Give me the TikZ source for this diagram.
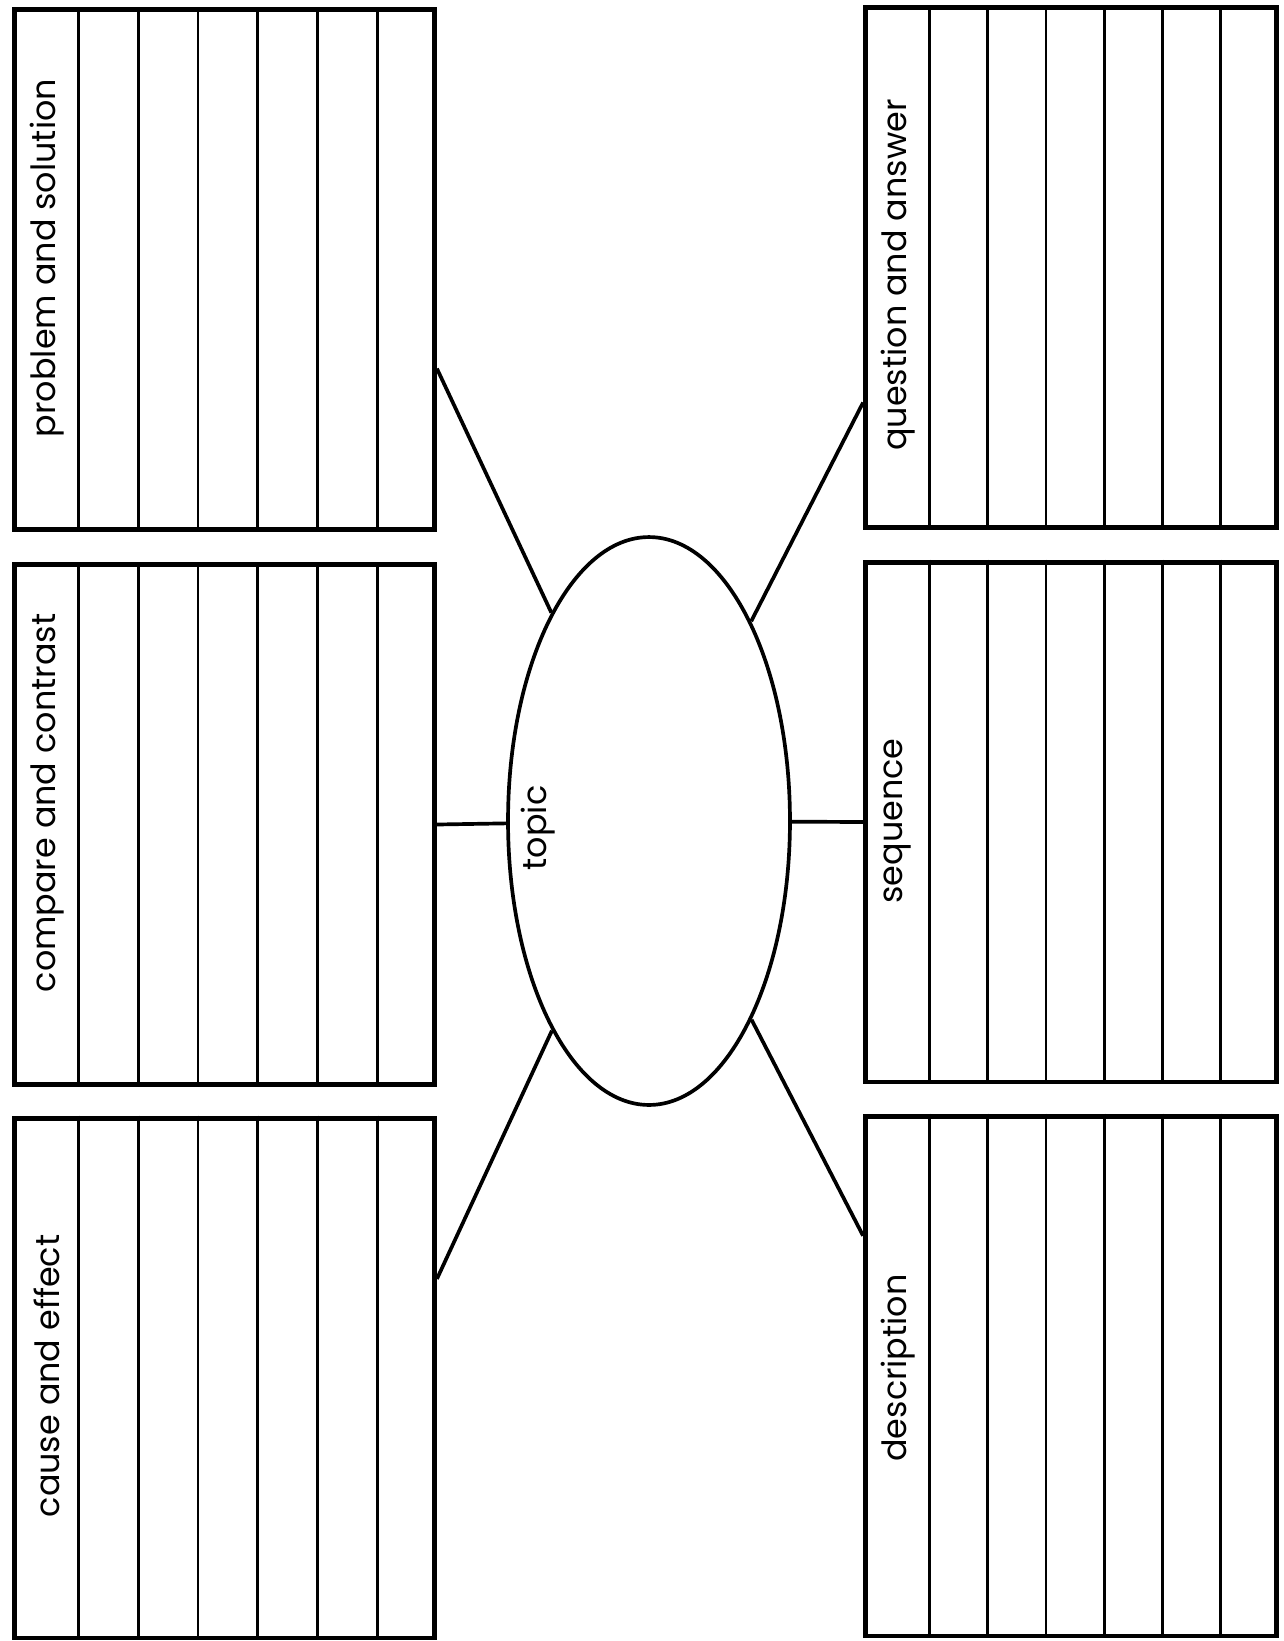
\documentclass[tikz,border=0pt]{standalone}
\usepackage{fontspec}
\setmainfont{Poppins}
\usetikzlibrary{shapes.geometric, calc}

\begin{document}
\begin{tikzpicture}[x=0.02cm, y=-0.02cm,
  box/.style={rectangle, draw=black, line width=2.8pt, inner sep=0pt, minimum width=8.4cm, minimum height=10.4cm},
  rule/.style={line width=1.5pt},
  link/.style={line width=2.1pt},
  lbl/.style={rotate=90, inner sep=0pt, font=\fontsize{19}{22}\selectfont}]
\useasboundingbox (0,0) rectangle (1284,1641);
\node[box] (ps) at (224.5, 269.5) {};
\node[box] (cc) at (224.5, 824.5) {};
\node[box] (ce) at (224.5, 1378) {};
\node[box, minimum width=8.22cm] (qa) at (1071, 267.5) {};
\node[box, minimum width=8.22cm] (sq) at (1071, 822) {};
\node[box, minimum width=8.22cm] (de) at (1071, 1376) {};
\node[ellipse, draw=black, line width=2.1pt, inner sep=0pt, minimum width=5.64cm, minimum height=11.36cm] (topic) at (649, 821) {};
% writing lines in each box
\foreach \b in {ps, cc, ce, qa, sq, de}
  \foreach \k in {0,...,5}
    \draw[rule] ($([xshift=1.33cm]\b.north west)!\k/6!(\b.north east)$) -- ($([xshift=1.33cm]\b.south west)!\k/6!(\b.south east)$);
\node[lbl] (psl) at (47, 258) {problem and solution};
\node[lbl] (ccl) at (47, 803) {compare and contrast};
\node[lbl] (cel) at (47, 1376) {cause and effect};
\node[lbl] (qal) at (898, 275) {question and answer};
\node[lbl] (sql) at (898, 821) {sequence};
\node[lbl] (del) at (898, 1368) {description};
\node[lbl] (tpl) at (538, 828) {topic};
\draw[link] (ps.-25.3) -- (topic);
\draw[link] (cc.east) -- (topic);
\draw[link] (ce.25) -- (topic);
\draw[link] (qa.213.1) -- (topic);
\draw[link] (sq.west) -- (topic);
\draw[link] (de.146.8) -- (topic);
\end{tikzpicture}
\end{document}
